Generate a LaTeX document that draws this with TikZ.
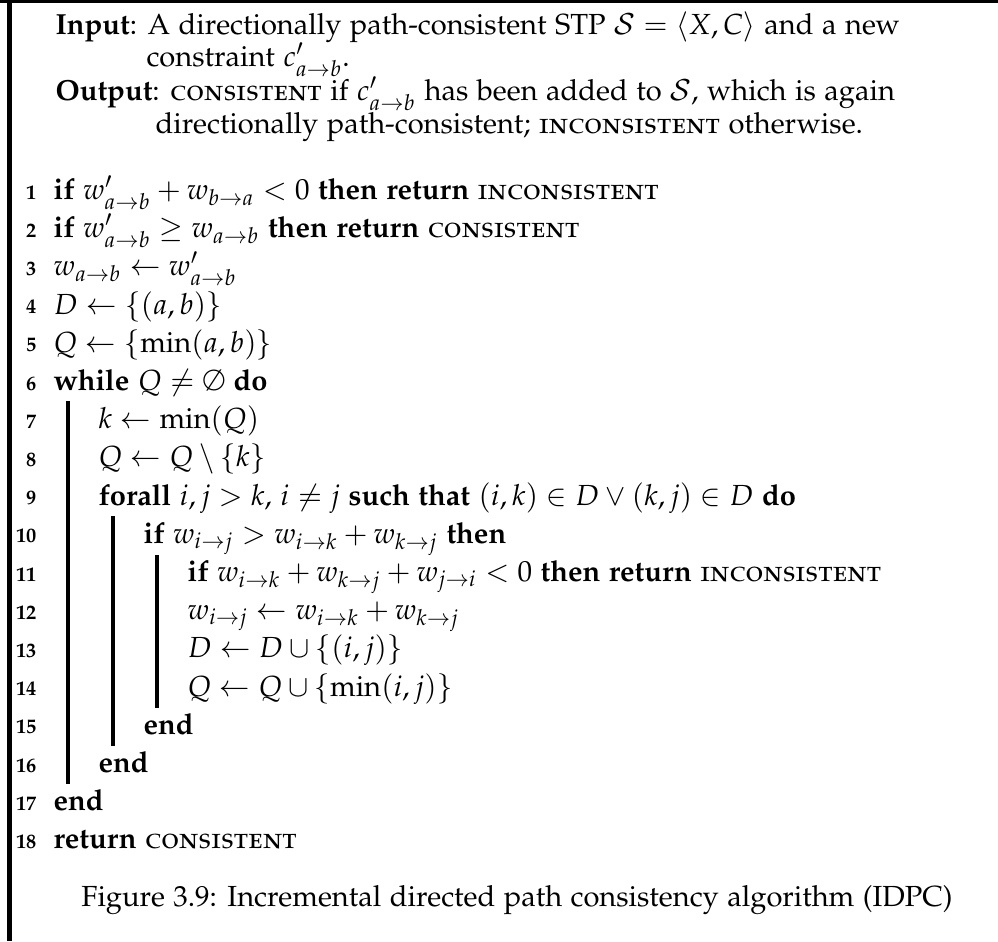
\documentclass[tikz,border=0pt]{standalone}
\usepackage[T1]{fontenc}
\usepackage[sc]{mathpazo}
\usepackage{amsmath}

\tikzset{
  algtext/.style={anchor=base west, inner sep=0pt},
  lineno/.style={anchor=base east, inner sep=0pt, font=\scriptsize\bfseries},
  vblock/.style={line width=1.15pt},
}

\begin{document}
\begin{tikzpicture}[x=0.344pt,y=-0.344pt]
\useasboundingbox (0,0) rectangle (998,941);

% frame
\draw[line width=1.2pt] (0,1.7) -- (998,1.7);
\draw[line width=1.4pt] (9.5,0) -- (9.5,941);

% input and output
\node[algtext] (in1) at (55,34) {\textbf{Input}: A directionally path-consistent STP $\mathcal{S}=\langle X,C\rangle$ and a new};
\node[algtext] (in2) at (146,66) {constraint $c'_{a\rightarrow b}$.};
\node[algtext] (out1) at (55,100) {\textbf{Output}: \textsc{consistent} if $c'_{a\rightarrow b}$ has been added to $\mathcal{S}$, which is again};
\node[algtext] (out2) at (155,133) {directionally path-consistent; \textsc{inconsistent} otherwise.};

% line numbers
\foreach \i in {1,...,18}
  \node[lineno] (n\i) at (37,{199+38.2*(\i-1)}) {\i};

% body
\node[algtext] (l1) at (53,199) {\textbf{if} $w'_{a\rightarrow b}+w_{b\rightarrow a}<0$ \textbf{then return} \textsc{inconsistent}};
\node[algtext] (l2) at (53,237) {\textbf{if} $w'_{a\rightarrow b}\geq w_{a\rightarrow b}$ \textbf{then return} \textsc{consistent}};
\node[algtext] (l3) at (53,275) {$w_{a\rightarrow b}\leftarrow w'_{a\rightarrow b}$};
\node[algtext] (l4) at (53,314) {$D\leftarrow\{(a,b)\}$};
\node[algtext] (l5) at (53,352) {$Q\leftarrow\{\min(a,b)\}$};
\node[algtext] (l6) at (53,390) {\textbf{while} $Q\neq\emptyset$ \textbf{do}};
\node[algtext] (l7) at (98,428) {$k\leftarrow\min(Q)$};
\node[algtext] (l8) at (98,466) {$Q\leftarrow Q\setminus\{k\}$};
\node[algtext] (l9) at (98,505) {\textbf{forall} $i,j>k$, $i\neq j$ \textbf{such that} $(i,k)\in D\vee(k,j)\in D$ \textbf{do}};
\node[algtext] (l10) at (143,543) {\textbf{if} $w_{i\rightarrow j}>w_{i\rightarrow k}+w_{k\rightarrow j}$ \textbf{then}};
\node[algtext] (l11) at (187,581) {\textbf{if} $w_{i\rightarrow k}+w_{k\rightarrow j}+w_{j\rightarrow i}<0$ \textbf{then return} \textsc{inconsistent}};
\node[algtext] (l12) at (187,619) {$w_{i\rightarrow j}\leftarrow w_{i\rightarrow k}+w_{k\rightarrow j}$};
\node[algtext] (l13) at (187,657) {$D\leftarrow D\cup\{(i,j)\}$};
\node[algtext] (l14) at (187,696) {$Q\leftarrow Q\cup\{\min(i,j)\}$};
\node[algtext] (l15) at (143,734) {\textbf{end}};
\node[algtext] (l16) at (98,772) {\textbf{end}};
\node[algtext] (l17) at (53,810) {\textbf{end}};
\node[algtext] (l18) at (53,848) {\textbf{return} \textsc{consistent}};

% block lines
\draw[vblock] (68,401) -- (68,784);
\draw[vblock] (113,516) -- (113,746);
\draw[vblock] (157,555) -- (157,708);

% caption
\node[anchor=base, inner sep=0pt] (cap) at (517,906) {Figure 3.9: Incremental directed path consistency algorithm (IDPC)};

\end{tikzpicture}
\end{document}
